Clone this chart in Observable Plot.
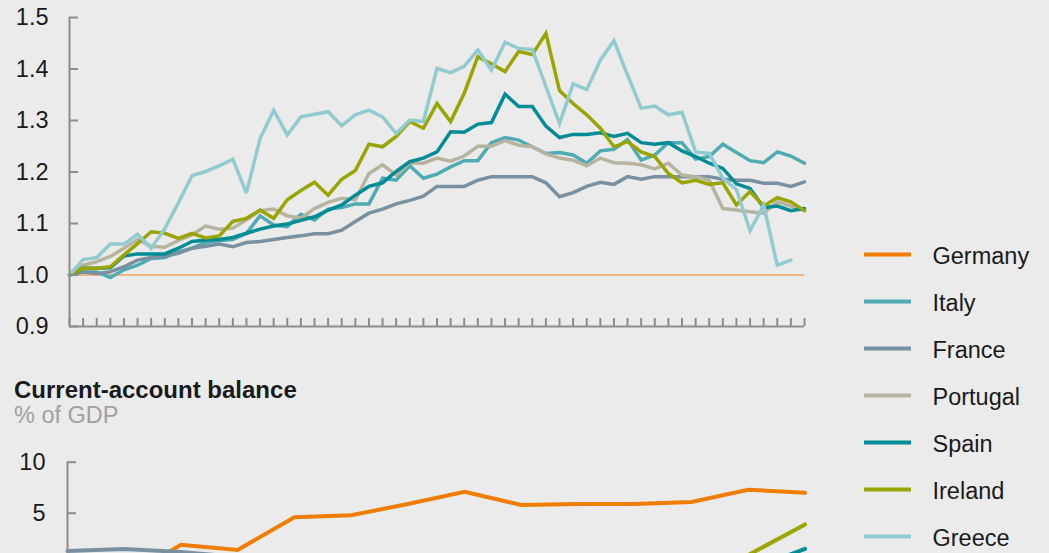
<!DOCTYPE html>
<html><head><meta charset="utf-8">
<script src="https://cdn.jsdelivr.net/npm/d3@7"></script>
<script src="https://cdn.jsdelivr.net/npm/@observablehq/plot@0.6"></script>
<style>
html,body{margin:0;padding:0;background:#ebebeb;overflow:hidden;}
#wrap{position:relative;width:1049px;height:553px;background:#ebebeb;font-family:"Liberation Sans",Arial,sans-serif;overflow:hidden;}
.abs{position:absolute;}
#title{left:14px;top:378px;font-size:24px;line-height:24px;font-weight:bold;color:#1a1a1a;white-space:nowrap;}
#sub{left:14px;top:404px;font-size:23.5px;line-height:23.5px;color:#a0a0a0;white-space:nowrap;}
</style></head><body>
<div id="wrap">
  <div id="top" class="abs" style="left:0;top:0"></div>
  <div id="title" class="abs">Current-account balance</div>
  <div id="sub" class="abs">% of GDP</div>
  <div id="bottom" class="abs" style="left:0;top:430px"></div>
  <div id="legend" class="abs" style="left:820px;top:0"></div>
</div>
<script>
// ---- categories ----
const countries = ["Germany", "Italy", "France", "Portugal", "Spain", "Ireland", "Greece"];
const colors = ["#ee7d00", "#4eabb3", "#7890a0", "#b6b49e", "#008c95", "#9aa500", "#92cbcf"];
const years = [2000, 2001, 2002, 2003, 2004, 2005, 2006, 2007, 2008, 2009, 2010, 2011, 2012, 2013];
const quarterNames = ["Q1", "Q2", "Q3", "Q4"];
const quarters = [];
for (const y of years) for (const q of quarterNames) quarters.push(y + q);
quarters.length = 55; // 2000Q1 .. 2013Q3

// ---- top panel: unit labour costs relative to Germany (Germany = 1.0) ----
const germanyBase = 1.0;
const italy = [1.000,1.006,1.006,0.995,1.010,1.019,1.032,1.034,1.045,1.052,1.063,1.067,1.069,1.081,1.115,1.097,1.094,1.118,1.107,1.128,1.131,1.138,1.138,1.188,1.184,1.212,1.188,1.196,1.210,1.222,1.222,1.257,1.267,1.262,1.249,1.236,1.238,1.233,1.217,1.241,1.244,1.263,1.223,1.233,1.257,1.257,1.225,1.230,1.254,1.238,1.222,1.218,1.239,1.231,1.217];
const france = [1.000,1.006,1.003,1.006,1.016,1.029,1.034,1.037,1.042,1.052,1.056,1.060,1.055,1.063,1.065,1.069,1.073,1.076,1.080,1.080,1.087,1.104,1.120,1.128,1.138,1.145,1.153,1.172,1.172,1.172,1.184,1.191,1.191,1.191,1.191,1.179,1.152,1.160,1.172,1.180,1.176,1.191,1.186,1.191,1.191,1.191,1.191,1.191,1.186,1.184,1.184,1.178,1.178,1.172,1.181];
const portugal = [1.000,1.019,1.026,1.036,1.052,1.069,1.056,1.054,1.067,1.078,1.095,1.089,1.091,1.107,1.125,1.128,1.115,1.110,1.129,1.141,1.149,1.146,1.197,1.214,1.194,1.218,1.217,1.227,1.221,1.231,1.250,1.250,1.261,1.252,1.249,1.235,1.227,1.223,1.212,1.227,1.218,1.217,1.214,1.206,1.217,1.194,1.191,1.184,1.129,1.126,1.123,1.120,1.142,1.134,1.125];
const spain = [1.000,1.013,1.013,1.014,1.037,1.041,1.041,1.041,1.052,1.065,1.068,1.069,1.073,1.081,1.089,1.095,1.099,1.106,1.113,1.126,1.136,1.155,1.172,1.179,1.201,1.220,1.227,1.239,1.278,1.277,1.293,1.296,1.351,1.327,1.327,1.289,1.267,1.273,1.273,1.276,1.269,1.275,1.257,1.254,1.257,1.241,1.230,1.217,1.207,1.177,1.168,1.131,1.134,1.125,1.129];
const ireland = [1.000,1.013,1.013,1.016,1.039,1.061,1.084,1.081,1.071,1.081,1.072,1.076,1.104,1.110,1.126,1.110,1.146,1.164,1.180,1.155,1.186,1.203,1.254,1.249,1.269,1.298,1.285,1.333,1.298,1.353,1.424,1.410,1.395,1.434,1.428,1.469,1.358,1.333,1.311,1.285,1.249,1.259,1.239,1.230,1.197,1.179,1.184,1.176,1.179,1.136,1.162,1.134,1.150,1.142,1.125];
const greece = [1.000,1.030,1.034,1.060,1.060,1.079,1.052,1.090,1.140,1.193,1.201,1.212,1.225,1.159,1.265,1.320,1.272,1.307,1.312,1.317,1.290,1.311,1.320,1.307,1.275,1.301,1.298,1.401,1.393,1.405,1.437,1.398,1.452,1.440,1.438,1.366,1.294,1.371,1.360,1.417,1.455,1.388,1.324,1.328,1.311,1.316,1.239,1.236,1.188,1.166,1.086,1.136,1.019,1.029,null];
const yTicksTop = [0.9, 1.0, 1.1, 1.2, 1.3, 1.4, 1.5];

// ---- bottom panel: current-account balance, % of GDP ----
const germanyCA  = [-1.7, -1.4, 1.9, 1.4, 4.6, 4.8, 5.9, 7.1, 5.8, 5.9, 5.9, 6.1, 7.3, 7.0];
const italyCA    = [-0.3, 0.1, -0.8, -1.3, -0.9, -1.7, -2.6, -2.4, -2.9, -2.0, -3.5, -3.1, -0.7, 0.4];
const franceCA   = [1.3, 1.5, 1.2, 0.7, 0.5, -0.5, -0.6, -1.0, -1.7, -1.3, -1.3, -1.8, -2.2, -1.6];
const portugalCA = [-10.3, -10.3, -8.2, -6.4, -8.3, -10.3, -10.7, -10.1, -12.6, -10.9, -10.6, -7.0, -2.0, 0.3];
const spainCA    = [-4.0, -3.9, -3.3, -3.5, -5.2, -7.4, -9.0, -10.0, -9.6, -4.8, -4.5, -3.7, -0.6, 1.5];
const irelandCA  = [-0.4, -0.6, -1.0, 0.0, -0.6, -3.5, -3.6, -5.3, -5.7, -2.3, 0.3, 0.4, 0.9, 3.9];
const greeceCA   = [-7.8, -7.2, -6.5, -6.5, -5.8, -7.6, -11.4, -14.6, -14.9, -11.2, -10.1, -9.9, -2.4, -1.5];
const yDomainBottom = [-15, 10];
const yTicksBottom = [5, 10]; // the ticks visible above the picture's lower edge

// ---- build tables ----
const topSeries = {Italy: italy, France: france, Portugal: portugal, Spain: spain, Ireland: ireland, Greece: greece};
const topRows = [];
for (const c of countries) {
  if (!topSeries[c]) continue;
  topSeries[c].forEach((v, i) => topRows.push({country: c, q: quarters[i], value: v}));
}
const bottomSeries = {Germany: germanyCA, Italy: italyCA, France: franceCA, Portugal: portugalCA, Spain: spainCA, Ireland: irelandCA, Greece: greeceCA};
const bottomRows = [];
for (const c of countries) bottomSeries[c].forEach((v, i) => bottomRows.push({country: c, year: years[i], value: v}));

const axisGray = "#8c8c8c";
const textColor = "#1a1a1a";
const font = {fontFamily: "'Liberation Sans', Arial, sans-serif", fontSize: "23.5px", background: "transparent", color: textColor, overflow: "visible"};
const colorScale = {domain: countries, range: colors};

// ---- top chart ----
const topPlot = Plot.plot({
  width: 830, height: 345,
  marginLeft: 69, marginRight: 26, marginTop: 17, marginBottom: 19,
  style: font,
  x: {type: "point", domain: quarters, padding: 0, label: null},
  y: {domain: [yTicksTop[0], yTicksTop[yTicksTop.length - 1]], label: null},
  color: colorScale,
  marks: [
    Plot.ruleY([germanyBase], {stroke: "#f0a35e", strokeWidth: 1.3}),
    Plot.line(topRows, {x: "q", y: "value", z: "country", stroke: "country", strokeWidth: 3.5, strokeLinejoin: "miter", strokeMiterlimit: 3}),
    Plot.ruleX([quarters[0]], {y1: yTicksTop[0], y2: yTicksTop[yTicksTop.length - 1], stroke: axisGray, strokeWidth: 2}),
    Plot.ruleY([yTicksTop[0]], {stroke: axisGray, strokeWidth: 2}),
    Plot.axisY({ticks: yTicksTop, tickSize: 9, dx: 9, tickFormat: () => "", label: null, stroke: axisGray, strokeWidth: 2}),
    Plot.axisY({ticks: yTicksTop, tickSize: 0, tickPadding: 21, tickFormat: d3.format(".1f"), label: null, fill: textColor, fontSize: 23.5}),
    Plot.axisX({ticks: quarters, tickSize: 8, dy: -8, tickFormat: () => "", label: null, stroke: axisGray, strokeWidth: 2})
  ]
});
document.getElementById("top").appendChild(topPlot);

// ---- bottom chart ----
const bottomPlot = Plot.plot({
  width: 830, height: 300,
  marginLeft: 67, marginRight: 25.5, marginTop: 31.7, marginBottom: 13.3,
  style: font,
  x: {domain: [years[0], years[years.length - 1]], axis: null},
  y: {domain: yDomainBottom, label: null},
  color: colorScale,
  marks: [
    Plot.line(bottomRows, {x: "year", y: "value", z: "country", stroke: "country", strokeWidth: 4, strokeLinejoin: "miter", strokeMiterlimit: 3}),
    Plot.ruleX([years[0]], {y1: yDomainBottom[0], y2: yDomainBottom[1], stroke: axisGray, strokeWidth: 2}),
    Plot.axisY({ticks: yTicksBottom, tickSize: 9, dx: 9, tickFormat: () => "", label: null, stroke: axisGray, strokeWidth: 2}),
    Plot.axisY({ticks: yTicksBottom, tickSize: 0, tickPadding: 22, label: null, fill: textColor, fontSize: 23.5})
  ]
});
document.getElementById("bottom").appendChild(bottomPlot);

// ---- legend ----
const legendPlot = Plot.plot({
  width: 229, height: 553,
  marginLeft: 44, marginRight: 138, marginTop: 252.7, marginBottom: 16.5,
  style: font,
  x: {domain: [0, 1], axis: null},
  y: {type: "point", domain: countries, padding: 0, axis: null},
  color: colorScale,
  marks: [
    Plot.tickY(countries, {y: d => d, stroke: d => d, strokeWidth: 4}),
    Plot.text(countries, {y: d => d, text: d => d, frameAnchor: "left", dx: 68, dy: 2, textAnchor: "start", fill: textColor, fontSize: 23.5})
  ]
});
document.getElementById("legend").appendChild(legendPlot);
</script>
</body></html>
